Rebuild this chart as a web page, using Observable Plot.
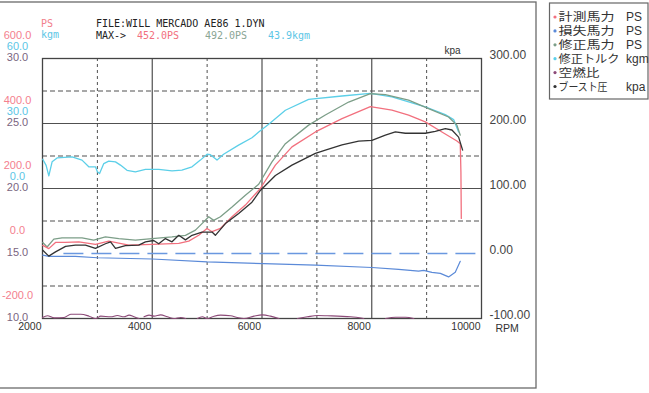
<!DOCTYPE html>
<html><head><meta charset="utf-8">
<script src="https://cdn.jsdelivr.net/npm/d3@7"></script>
<script src="https://cdn.jsdelivr.net/npm/@observablehq/plot@0.6"></script>
<style>html,body{margin:0;padding:0;background:#fff;}svg{display:block;}</style>
</head><body><div id="chart"></div>
<script>
// ---- data (read from the dyno sheet) ----
const xTicks = [2000, 4000, 6000, 8000, 10000];
const solidX = [4000, 6000, 8000];
const dashedX = [3000, 5000, 7000, 9000];
const solidY = [400, 200];            // PS units
const dashedY = [500, 300, 100, -100];
const psTicks = [600, 400, 200, 0, -200];
const torqueTicks = [60, 30, 0];
const afrTicks = [30, 25, 20, 15, 10];
const kpaTicks = [300, 200, 100, 0, -100];

// 修正トルク kgm
const torqueRpm = [2005,2066,2115,2175,2266,2540,2720,2843,2965,3000,3040,3117,3207,3330,3420,3540,3693,3876,4118,4360,4540,4725,4877,5000,5060,5180,5300,5573,5817,5940,6122,6426,6850,7457,7975,8368,8976,9340,9492,9583];
const torqueKgm = [13.5,10.7,5.8,12.3,14.1,14.6,13.1,10.0,10.0,7.7,6.9,11.5,12.6,12.3,10.8,8.4,7.7,8.8,8.8,8.1,8.5,10.0,13.1,15.8,15.6,13.1,15.8,20.0,23.4,26.1,29.7,36.1,41.1,42.7,43.9,42.3,37.7,34.1,31.8,26.1];
// 修正馬力 PS
const corrRpm = [2005,2084,2206,2357,2721,2934,3147,3390,3693,3996,4360,4605,4787,4907,5029,5120,5242,5454,5697,5940,6182,6426,6850,7154,7579,7975,8248,8672,9036,9400,9552,9613];
const corrPs = [34,20,44,48,48,41,51,46,41,46,51,56,72,92,113,102,113,143,179,213,282,338,395,426,466,492,489,472,446,420,395,364];
// 計測馬力 PS
const measRpm = [2005,2115,2237,2417,2661,2965,3208,3572,3996,4483,4665,4847,4998,5090,5242,5454,5697,5970,6244,6546,6973,7458,7975,8368,8672,8976,9279,9552,9613,9625,9632];
const measPs = [25,15,34,34,36,28,38,26,28,31,38,56,77,67,77,113,149,200,272,328,374,415,452,441,426,405,374,346,338,250,108];
// ブースト圧 kpa
const boostRpm = [2005,2115,2237,2420,2600,2783,2965,3147,3240,3330,3512,3754,3876,4026,4118,4240,4360,4483,4605,4725,4907,5090,5150,5333,5575,5817,5970,6244,6546,6973,7155,7458,7762,8003,8248,8430,8612,8976,9158,9340,9461,9583,9656];
const boostKpa = [5,-4,2.5,11,13,13,8,15,18,8,12,13,18,20,15,23,18,28,21,28,33,33,28,46,61.5,79,97,120,136,154,159,167,173,174,182,187,185,185,188,192,190,179,159];
// 損失馬力 PS
const lossRpm = [2005,2115,2600,3000,4000,5000,6030,6973,8003,8490,8854,8945,9097,9250,9400,9522,9613];
const lossPs = [-5,-9,-9,-13,-17,-26,-31,-36,-43,-49,-54,-52,-58,-61,-72,-58,-24];
// 空燃比
const afrRpm = [2000,2091,2212,2394,2515,2697,2849,2970,3061,3243,3365,3486,3577,3668,3759,3800,3850,3941,4032,4154,4276,4396,4518,4610,4700,4822,4913,5005,5125,5247,5429,5551,5671,5853,6006,6157,6309,6450,6644,6826,7008,7190,7614,7857,8050,8252,8434,8616,8767];
const afrVal = [10.08,10.21,10.05,10.08,10.33,10.33,10.18,10.0,10.18,10.13,10.23,10.13,10.26,10.13,10.0,null,10.13,10.26,10.18,10.28,10.13,10.0,10.08,10.0,null,10.0,10.13,10.0,10.18,10.26,10.21,10.08,10.0,10.18,10.28,10.18,10.0,null,10.0,10.13,10.23,10.21,10.13,10.0,null,10.0,10.1,10.1,10.0];
const zeroDashStart = 2390;

// ---- secondary-axis conversions to the PS scale ----
const fromTorque = t => 200 + t * 20 / 3;
const fromKpa = k => k * 2;
const fromAfr = a => a == null ? null : (a - 15) * 40;

const zip = (xs, ys, f = v => v) => xs.map((x, i) => ({x, y: f(ys[i])}));

const C = {
  meas: "#f2707e", loss: "#5b8ad8", corr: "#7c9e88", torque: "#5ccfe8", afr: "#8c4a78", boost: "#333333",
  grid: "#505050", zero: "#6a98e0"
};

const plot = Plot.plot({
  width: 649, height: 393,
  marginLeft: 42, marginRight: 168, marginTop: 58, marginBottom: 75,
  style: {fontFamily: "Liberation Sans, Arial, sans-serif", background: "#fff", overflow: "visible"},
  x: {domain: [2000, 10000], axis: null},
  y: {domain: [-200, 600], axis: null},
  marks: [
    Plot.ruleX(dashedX, {stroke: C.grid, strokeWidth: 1, strokeDasharray: "3,3"}),
    Plot.ruleY(dashedY, {stroke: C.grid, strokeWidth: 1, strokeDasharray: "5,3"}),
    Plot.ruleX(solidX, {stroke: C.grid, strokeWidth: 1.2}),
    Plot.ruleY(solidY, {stroke: C.grid, strokeWidth: 1.2}),
    Plot.ruleY([{y: 0, x1: zeroDashStart, x2: 10000}], {y: "y", x1: "x1", x2: "x2", stroke: C.zero, strokeWidth: 1.5, strokeDasharray: "20,8"}),
    Plot.frame({stroke: "#444", strokeWidth: 1.3}),
    Plot.line(zip(afrRpm, afrVal, fromAfr), {x: "x", y: "y", stroke: C.afr, strokeWidth: 1.1, curve: "monotone-x"}),
    Plot.line(zip(lossRpm, lossPs), {x: "x", y: "y", stroke: C.loss, strokeWidth: 1.2}),
    Plot.line(zip(torqueRpm, torqueKgm, fromTorque), {x: "x", y: "y", stroke: C.torque, strokeWidth: 1.3}),
    Plot.line(zip(corrRpm, corrPs), {x: "x", y: "y", stroke: C.corr, strokeWidth: 1.3}),
    Plot.line(zip(measRpm, measPs), {x: "x", y: "y", stroke: C.meas, strokeWidth: 1.3}),
    Plot.line(zip(boostRpm, boostKpa, fromKpa), {x: "x", y: "y", stroke: C.boost, strokeWidth: 1.3}),
    // x tick labels
    Plot.text(xTicks, {x: d => d, frameAnchor: "bottom", dy: 11, dx: -1, textAnchor: "end", text: d => String(d), fontSize: 10.5, fill: "#333"}),
    Plot.text(["RPM"], {frameAnchor: "bottom-right", dx: 14, dy: 13, textAnchor: "start", fontSize: 10.5, fill: "#333"}),
    // left stacked axes
    Plot.text(psTicks, {y: d => d, frameAnchor: "left", dx: -25, dy: -23, textAnchor: "middle", text: d => d.toFixed(1), fontSize: 11, fill: "#f4808e"}),
    Plot.text(torqueTicks, {y: fromTorque, frameAnchor: "left", dx: -25, dy: -12, textAnchor: "middle", text: d => d.toFixed(1), fontSize: 11, fill: "#5cc6e6"}),
    Plot.text(afrTicks, {y: fromAfr, frameAnchor: "left", dx: -25, dy: -1.5, textAnchor: "middle", text: d => d.toFixed(1), fontSize: 11, fill: "#7a6480"}),
    // right kpa axis
    Plot.text(kpaTicks, {y: fromKpa, frameAnchor: "right", dx: 8, dy: -3, textAnchor: "start", text: d => d.toFixed(2), fontSize: 12, fill: "#444"}),
    Plot.text(["kpa"], {frameAnchor: "top-right", dx: -21, dy: -12, textAnchor: "end", fontSize: 10, fill: "#333"})
  ]
});
document.getElementById("chart").appendChild(plot);

// ---- sheet header, border and legend ----
const svg = d3.select(plot);
svg.insert("rect", ":first-child").attr("x", -2).attr("y", 2).attr("width", 538).attr("height", 386)
  .attr("fill", "none").attr("stroke", "#6a6a6a").attr("stroke-width", 1.3);

const mono = "DejaVu Sans Mono, monospace";
const header = [
  {t: "PS", x: 41, y: 23, c: "#f2808c"},
  {t: "kgm", x: 41, y: 34, c: "#5cc6e6"},
  {t: "FILE:WILL MERCADO AE86 1.DYN", x: 96, y: 23, c: "#222"},
  {t: "MAX->", x: 96, y: 35, c: "#222"},
  {t: "452.0PS", x: 137, y: 35, c: "#f2707e"},
  {t: "492.0PS", x: 205, y: 35, c: "#8aa594"},
  {t: "43.9kgm", x: 268, y: 35, c: "#5cc6e6"}
];
const hg = svg.append("g").attr("text-anchor", "start");
hg.selectAll("text").data(header).join("text")
  .attr("x", d => d.x).attr("y", d => d.y).attr("dy", "0.35em").attr("text-anchor", "start")
  .attr("font-family", mono).attr("font-size", 10).attr("fill", d => d.c).text(d => d.t);

const legendItems = [
  {name: "計測馬力", unit: "PS", c: C.meas, w: 56},
  {name: "損失馬力", unit: "PS", c: C.loss, w: 56},
  {name: "修正馬力", unit: "PS", c: C.corr, w: 56},
  {name: "修正トルク", unit: "kgm", c: C.torque, w: 61},
  {name: "空燃比", unit: "", c: C.afr, w: 41},
  {name: "ブースト圧", unit: "kpa", c: C.boost, w: 49}
];
const lg = svg.append("g").attr("text-anchor", "start");
lg.append("rect").attr("x", 549.5).attr("y", 3).attr("width", 98.5).attr("height", 96)
  .attr("fill", "#fff").attr("stroke", "#666").attr("stroke-width", 1.2);
legendItems.forEach((d, i) => {
  const y = 17 + i * 13.9;
  lg.append("circle").attr("cx", 555).attr("cy", y).attr("r", 1.6).attr("fill", d.c);
  lg.append("text").attr("x", 558.5).attr("y", y).attr("dy", "0.38em").attr("text-anchor", "start")
    .attr("textLength", d.w).attr("lengthAdjust", "spacingAndGlyphs")
    .attr("font-family", "Noto Sans CJK JP, sans-serif").attr("font-size", 11.5).attr("fill", "#333").text(d.name);
  if (d.unit) lg.append("text").attr("x", 626).attr("y", y).attr("dy", "0.35em").attr("text-anchor", "start")
    .attr("font-family", "Liberation Sans, Arial, sans-serif").attr("font-size", 12).attr("fill", "#333").text(d.unit);
});
</script></body></html>
